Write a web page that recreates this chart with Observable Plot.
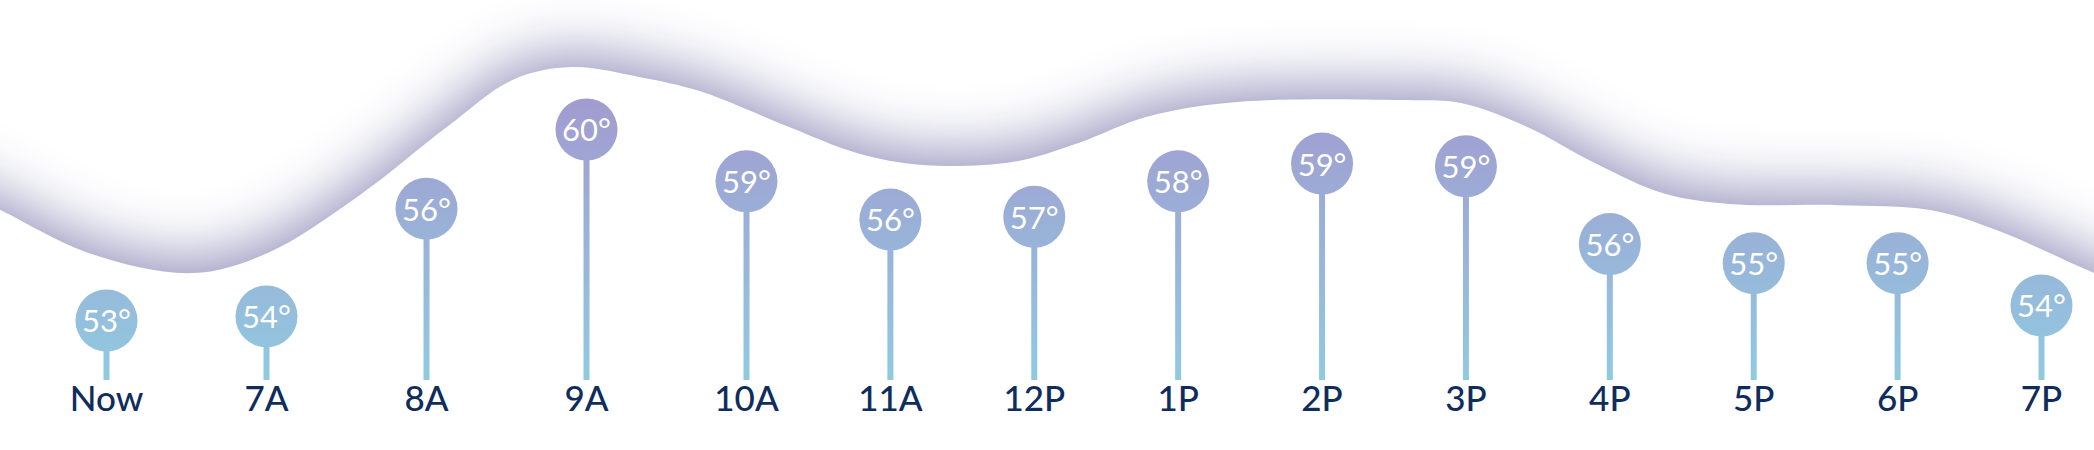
<!DOCTYPE html>
<html>
<head>
<meta charset="utf-8">
<script src="https://cdn.jsdelivr.net/npm/d3@7"></script>
<script src="https://cdn.jsdelivr.net/npm/@observablehq/plot@0.6"></script>
<style>
  body { margin: 0; background: white; }
  #chart svg { display: block; }
</style>
</head>
<body>
<div id="chart"></div>
<script>
// horas y temperaturas mostradas
const hours = ["Now", "7A", "8A", "9A", "10A", "11A", "12P", "1P", "2P", "3P", "4P", "5P", "6P", "7P"]
const temps = [53, 54, 56, 60, 59, 56, 57, 58, 59, 59, 56, 55, 55, 54]
// altura de cada globo (valor exacto, en grados)
const levels = [53.0, 53.15, 57.1, 60.0, 58.1, 56.7, 56.8, 58.1, 58.75, 58.65, 55.8, 55.1, 55.1, 53.55]

// la onda de arriba: posición (en horas) y nivel (en grados)
const waveAt = [-1.05, -0.66, -0.11, 0.54, 1.01, 1.57, 2.13, 2.54, 2.91, 3.34, 3.71, 4.30, 4.77, 5.23, 5.85, 6.31, 6.78, 7.41, 8.55, 8.97, 9.43, 9.90, 10.37, 10.83, 11.60, 12.23, 12.69, 13.37, 13.83]
const waveLevel = [58.1, 57.03, 55.46, 54.72, 55.46, 57.51, 60.07, 61.80, 62.27, 61.9, 61.39, 60.07, 59.12, 58.68, 58.79, 59.49, 60.44, 60.99, 61.06, 60.95, 60.07, 58.75, 57.65, 57.25, 57.21, 57.03, 56.30, 54.72, 53.73]

const stemBase = 50.8

const data = hours.map((h, i) => ({i, hour: h, temp: temps[i], level: levels[i]}))
const wave = waveAt.map((x, k) => ({i: x, v: waveLevel[k]}))

let chart = Plot.plot({
  width: 2094,
  height: 450,
  margin: 0,
  x: {type: "linear", domain: [0, 4, 13], range: [106, 746, 2041], axis: null},
  y: {domain: [53, 60], range: [320, 129], axis: null},
  style: {fontFamily: "Lato, sans-serif", background: "white"},
  marks: [
    Plot.areaY(wave, {x: "i", y1: "v", y2: 40, curve: "catmull-rom", fill: "white"}),
    Plot.ruleX(data, {x: "i", y1: stemBase, y2: "level", stroke: "url(#pinGrad)", strokeWidth: 6}),
    Plot.dot(data, {x: "i", y: "level", r: 31, fill: "url(#pinGrad)"}),
    Plot.text(data, {x: "i", y: "level", text: d => d.temp + "°", fill: "white", fontSize: 31, dy: 2}),
    Plot.text(data, {x: "i", text: "hour", frameAnchor: "bottom", dy: -40, fill: "#0f2d5c", fontSize: 35, fontWeight: 500})
  ]
})

// degradado de los globos y sombra de la onda
const svg = d3.select(chart)
const defs = svg.insert("defs", ":first-child")
const grad = defs.append("linearGradient")
  .attr("id", "pinGrad")
  .attr("gradientUnits", "userSpaceOnUse")
  .attr("x1", 0).attr("y1", 96).attr("x2", 0).attr("y2", 380)
grad.append("stop").attr("offset", 0).attr("stop-color", "#a29bd0")
grad.append("stop").attr("offset", 1).attr("stop-color", "#90cae0")

const filt = defs.append("filter")
  .attr("id", "shadow")
  .attr("filterUnits", "userSpaceOnUse")
  .attr("color-interpolation-filters", "sRGB")
  .attr("x", -300).attr("y", -300).attr("width", 2700).attr("height", 1400)
filt.append("feDropShadow")
  .attr("dx", 0).attr("dy", -12)
  .attr("stdDeviation", 30)
  .attr("flood-color", "#8f8db8")
  .attr("flood-opacity", 0.95)

svg.select('g[aria-label="area"]').attr("filter", "url(#shadow)")

d3.select('#chart').append(() => chart)
</script>
</body>
</html>
